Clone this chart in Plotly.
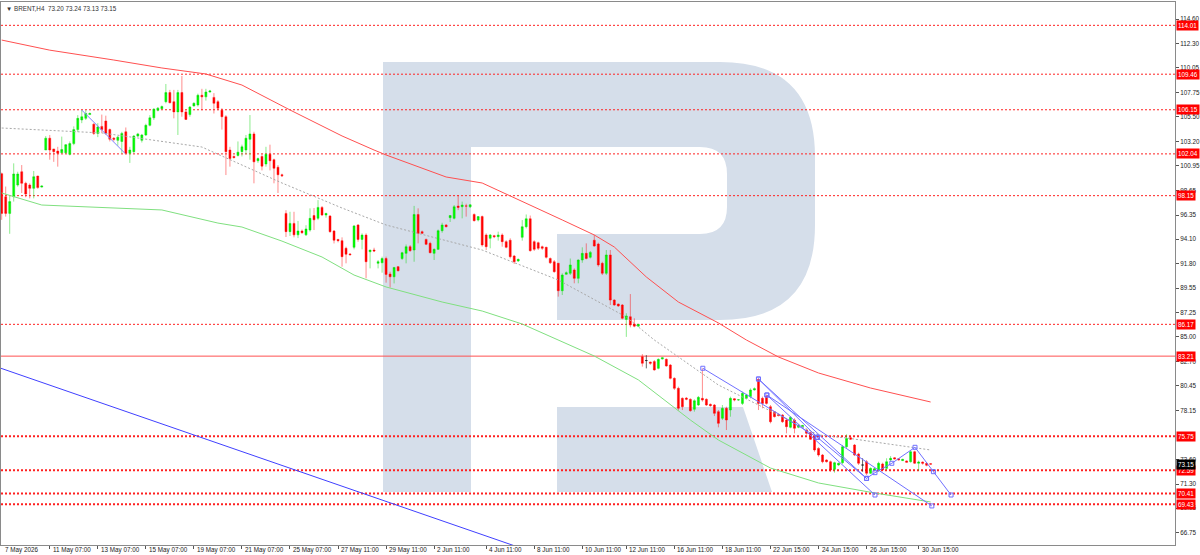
import plotly.graph_objects as go

# ---------------- data ----------------
opens = [100.2, 98.05, 96.5, 98.05, 99.14, 100.38, 99.3, 99.14, 98.83, 99.98,
         98.95, 102.4, 103.5, 102.5, 102.3, 102.15, 102.15, 102.0, 103.0, 104.3,
         105.2, 105.35, 105.7, 104.8, 103.95, 104.6, 105.1, 104.3, 103.5, 103.3,
         103.2, 104.1, 102.1, 102.25, 103.7, 103.3, 103.8, 104.7, 105.4, 106.1,
         106.25, 106.9, 107.75, 106.9, 105.95, 107.75, 105.95, 105.7, 106.5, 106.6,
         107.5, 107.35, 107.8, 107.3, 106.9, 106.1, 105.5, 102.4, 101.8, 101.9,
         102.25, 102.4, 103.4, 103.9, 101.4, 101.8, 101.1, 102.0, 101.5, 100.8,
         100.1, 96.5, 94.8, 95.57, 94.5, 94.86, 94.5, 94.95, 96.3, 96.04,
         97.06, 96.35, 96.25, 94.86, 94.08, 93.96, 93.25, 92.72, 93.34, 95.42,
         94.08, 94.48, 92.93, 93.09, 91.85, 91.9, 92.3, 90.85, 90.6, 91.54,
         92.3, 92.78, 93.4, 93.09, 96.4, 94.8, 94.08, 93.71, 92.78, 93.15,
         94.89, 95.42, 96.1, 96.04, 97.18, 97.12, 97.2, 97.12, 96.4, 95.88,
         96.2, 94.49, 94.18, 94.43, 94.33, 94.49, 93.87, 94.0, 92.53, 92.07,
         94.27, 95.26, 96.0, 93.87, 93.77, 93.4, 93.34, 92.3, 92.0, 91.85,
         89.3, 90.83, 90.92, 91.23, 90.45, 92.16, 92.78, 92.41, 94.0, 93.65,
         91.85, 90.92, 92.63, 88.43, 88.06, 87.97, 86.63, 86.88, 86.2, 86.0,
         83.16, 82.8, 82.66, 82.7, 82.07, 82.94, 82.91, 82.38, 81.14, 80.21,
         79.28, 79.3, 79.19, 78.26, 78.66, 79.28, 79.19, 78.72, 78.66, 78.04,
         77.42, 78.35, 78.2, 79.25, 79.12, 78.81, 79.28, 79.44, 80.06, 81.05,
         79.28, 79.5, 78.5, 78.04, 77.8, 77.73, 77.26, 76.58, 77.26, 76.58,
         76.64, 76.33, 76.08, 75.71, 74.62, 74.0, 73.54, 73.38, 72.67, 73.07,
         73.29, 74.78, 75.62, 74.93, 74.1, 73.07, 73.38, 72.3, 72.6, 72.61,
         73.17, 72.76, 73.54, 73.75, 73.66, 73.48, 73.45, 73.38, 74.31, 73.23,
         73.35, 73.23, 73.20]
highs = [100.3, 99.0, 98.1, 101.16, 100.38, 101.0, 99.45, 99.3, 100.45, 100.0,
         99.1, 103.7, 103.8, 102.5, 102.7, 103.65, 102.95, 103.2, 104.6, 105.65,
         106.1, 106.1, 105.9, 104.9, 104.9, 105.7, 105.6, 104.4, 103.6, 103.7,
         104.1, 104.5, 102.7, 103.8, 104.0, 103.9, 104.85, 105.65, 106.3, 106.4,
         106.55, 108.55, 108.0, 108.0, 108.0, 109.3, 106.1, 106.5, 106.85, 107.65,
         108.1, 108.1, 108.0, 107.7, 107.05, 106.3, 105.65, 102.7, 101.9, 103.2,
         102.9, 103.8, 105.66, 104.1, 101.7, 102.0, 102.7, 102.9, 101.6, 101.0,
         100.2, 96.8, 96.65, 96.65, 95.8, 95.0, 95.4, 96.97, 97.0, 97.74,
         97.18, 96.55, 96.35, 94.95, 94.1, 94.27, 93.4, 92.8, 95.42, 95.5,
         94.64, 94.64, 93.1, 93.3, 92.16, 92.47, 92.47, 91.07, 91.5, 91.6,
         92.93, 93.6, 93.55, 97.2, 96.97, 94.9, 94.15, 93.86, 93.24, 95.0,
         95.63, 95.5, 96.35, 97.28, 98.2, 97.6, 97.4, 97.35, 96.5, 96.25,
         96.3, 94.64, 94.58, 94.5, 94.8, 94.64, 94.0, 94.18, 92.63, 92.3,
         95.88, 96.4, 96.3, 94.0, 93.87, 93.5, 93.4, 92.4, 92.16, 91.9,
         90.92, 91.1, 92.3, 91.38, 92.22, 93.34, 93.71, 93.0, 94.49, 93.77,
         92.0, 93.09, 93.09, 88.5, 88.1, 88.06, 87.2, 88.99, 86.73, 86.2,
         83.4, 83.3, 82.7, 82.85, 83.0, 83.1, 83.0, 82.47, 81.24, 80.37,
         79.37, 79.4, 79.28, 79.19, 79.5, 82.07, 79.28, 78.8, 78.75, 78.19,
         78.66, 78.5, 79.44, 79.3, 79.2, 79.9, 79.7, 80.21, 80.3, 81.14,
         79.44, 79.6, 78.66, 78.1, 77.85, 77.8, 77.42, 77.63, 77.42, 76.9,
         76.8, 76.4, 76.17, 75.77, 74.72, 74.1, 73.6, 73.48, 73.38, 73.3,
         74.93, 75.93, 75.77, 75.03, 74.22, 73.7, 73.54, 72.85, 72.8, 73.38,
         73.29, 73.7, 73.9, 73.8, 73.7, 73.65, 73.5, 74.4, 74.4, 73.48,
         73.4, 73.3, 73.24]
lows = [95.9, 96.2, 94.6, 97.6, 98.99, 98.4, 98.0, 97.9, 97.9, 98.8,
        98.9, 102.4, 101.5, 101.3, 100.85, 102.1, 102.05, 101.9, 102.85, 104.1,
        104.9, 105.2, 105.7, 103.8, 103.6, 104.0, 103.8, 103.2, 103.2, 102.8,
        102.1, 102.0, 101.2, 102.1, 103.6, 103.1, 103.7, 104.6, 105.2, 106.0,
        106.2, 106.75, 106.75, 105.35, 103.8, 105.5, 105.2, 105.5, 106.45, 106.45,
        106.1, 107.0, 107.75, 105.8, 106.1, 104.3, 100.07, 100.85, 101.6, 101.8,
        101.8, 102.0, 101.5, 99.3, 101.2, 100.5, 100.85, 100.5, 99.3, 98.4,
        99.9, 94.3, 94.4, 94.27, 94.2, 94.6, 94.4, 94.8, 94.95, 95.88,
        96.25, 96.1, 94.7, 93.7, 93.8, 91.54, 91.85, 92.6, 93.15, 93.86,
        93.15, 90.45, 91.38, 92.9, 91.38, 90.98, 90.05, 89.6, 89.98, 91.1,
        92.16, 91.85, 92.93, 92.0, 93.71, 94.6, 93.55, 92.78, 92.16, 93.1,
        94.7, 95.2, 95.7, 95.94, 96.8, 96.04, 96.2, 97.0, 95.75, 95.75,
        93.4, 93.09, 93.25, 94.2, 93.96, 93.4, 93.25, 92.3, 91.79, 91.98,
        93.96, 95.1, 92.94, 93.0, 93.09, 93.1, 92.3, 91.79, 90.98, 88.75,
        88.9, 90.8, 90.76, 89.99, 89.99, 91.9, 92.22, 92.3, 93.4, 91.54,
        90.76, 90.76, 87.97, 87.9, 87.8, 86.63, 85.0, 85.89, 85.9, 85.95,
        82.23, 82.07, 82.4, 81.86, 81.98, 82.9, 82.23, 81.05, 80.06, 78.13,
        78.19, 79.1, 78.04, 78.04, 78.57, 78.97, 78.57, 78.5, 77.63, 76.58,
        77.26, 76.33, 77.57, 79.0, 79.05, 78.66, 79.2, 79.28, 80.0, 78.19,
        78.35, 78.7, 76.95, 77.5, 77.6, 77.0, 76.02, 76.49, 76.02, 76.5,
        76.6, 75.9, 75.4, 74.31, 73.85, 73.23, 73.3, 72.45, 72.36, 73.0,
        73.17, 74.62, 75.4, 73.91, 73.07, 72.45, 72.14, 72.23, 72.55, 72.45,
        72.55, 72.61, 73.4, 73.6, 73.5, 73.45, 73.3, 73.29, 73.17, 72.55,
        73.1, 72.95, 73.13]
closes = [96.5, 96.5, 97.6, 100.17, 100.17, 99.3, 98.3, 98.83, 99.92, 98.9,
          99.05, 103.5, 102.4, 102.25, 102.1, 102.45, 102.9, 103.0, 104.3, 105.35,
          105.5, 105.8, 105.8, 103.95, 104.55, 104.3, 103.95, 103.4, 103.4, 103.6,
          103.95, 102.1, 102.4, 103.7, 103.9, 103.8, 104.7, 105.4, 106.2, 106.3,
          106.45, 107.75, 106.8, 105.95, 107.75, 105.95, 105.25, 106.4, 106.75, 107.5,
          107.35, 107.8, 107.9, 106.75, 106.3, 105.5, 102.25, 101.6, 101.7, 102.2,
          102.7, 103.5, 103.9, 101.3, 101.6, 100.9, 102.0, 101.4, 100.7, 100.1,
          100.0, 94.8, 95.57, 94.5, 94.86, 94.7, 95.05, 96.04, 95.9, 97.06,
          96.35, 96.5, 94.8, 94.0, 93.96, 92.47, 92.7, 92.65, 95.33, 94.08,
          94.48, 92.0, 93.09, 93.0, 92.0, 92.3, 90.82, 90.6, 91.47, 91.16,
          92.84, 93.4, 93.03, 96.4, 94.64, 94.64, 93.62, 92.84, 93.15, 94.89,
          95.42, 95.26, 96.3, 97.12, 97.06, 97.28, 97.18, 97.3, 95.82, 96.2,
          93.56, 93.4, 94.49, 94.33, 94.49, 93.87, 93.34, 92.47, 92.0, 92.22,
          95.26, 96.0, 93.03, 93.15, 93.25, 93.25, 92.41, 91.9, 91.07, 89.3,
          90.76, 90.98, 91.7, 90.45, 92.16, 92.78, 92.3, 92.87, 93.46, 91.7,
          90.92, 92.63, 88.43, 87.97, 87.88, 86.73, 86.95, 86.11, 86.0, 86.17,
          82.54, 82.8, 82.54, 81.92, 82.91, 83.07, 82.29, 81.14, 80.21, 78.35,
          78.5, 79.19, 78.13, 79.06, 79.37, 79.12, 78.66, 78.6, 77.88, 76.95,
          78.35, 77.26, 79.28, 79.12, 79.15, 79.75, 79.59, 80.06, 80.18, 78.81,
          78.81, 78.81, 77.1, 77.57, 77.67, 77.1, 76.64, 77.51, 76.49, 76.8,
          76.76, 76.02, 75.46, 74.47, 74.0, 73.38, 73.38, 72.61, 73.29, 73.23,
          74.78, 75.55, 75.46, 74.0, 73.23, 73.07, 72.3, 72.76, 72.73, 73.23,
          72.61, 73.38, 73.69, 73.63, 73.54, 73.6, 73.32, 74.31, 73.23, 73.35,
          73.23, 73.04, 73.15]

tick_idx = [0, 12, 24, 36, 48, 60, 72, 84, 96, 108, 121, 133, 145, 156, 168,
            180, 192, 204, 216, 229]
tick_txt = ["7 May 2026", "11 May 07:00", "13 May 07:00", "15 May 07:00",
            "19 May 07:00", "21 May 07:00", "25 May 07:00", "27 May 11:00",
            "29 May 11:00", "2 Jun 11:00", "4 Jun 11:00", "8 Jun 11:00",
            "10 Jun 11:00", "12 Jun 11:00", "16 Jun 11:00", "18 Jun 11:00",
            "22 Jun 15:00", "24 Jun 15:00", "26 Jun 15:00", "30 Jun 15:00"]

price_ticks = [114.60, 112.30, 110.05, 107.75, 105.50, 103.20, 100.95, 98.65,
               96.35, 94.10, 91.80, 89.55, 87.25, 85.00, 82.70, 80.45, 78.15,
               73.60, 71.30, 69.05, 66.75]

levels_thin = [114.01, 109.46, 106.15, 102.04, 98.15, 86.17]
levels_bold = [75.75, 72.59, 70.41, 69.43]
level_solid = [83.21]
last_price = 73.15
header_text = "BRENT,H4\u00a0\u00a073.20 73.24 73.13 73.15"

red_ma_idx = [0, 12, 28, 40, 51, 56, 60, 72, 85, 93, 96, 111, 120, 140, 148,
              153, 161, 169, 179, 186, 194, 204, 217, 232]
red_ma_val = [112.64, 111.7, 110.78, 110.04, 109.48, 108.92, 108.45, 106.13,
              103.71, 102.4, 101.94, 99.89, 99.33, 95.89, 94.49, 93.37, 90.58,
              88.25, 86.3, 84.71, 83.13, 81.64, 80.24, 78.94]
green_ma_idx = [0, 10, 40, 54, 60, 70, 80, 88, 96, 110, 120, 130, 148, 159,
                172, 179, 192, 204, 218, 232]
green_ma_val = [98.40, 97.28, 96.82, 95.6, 95.23, 93.92, 92.44, 90.76, 89.65,
                88.25, 87.41, 86.2, 83.22, 81.0, 77.26, 75.40, 72.79, 71.40,
                70.47, 69.63]
gray_idx = [0, 25, 50, 70, 85, 96, 120, 139, 156, 163, 179, 204, 211, 232]
gray_val = [104.45, 103.99, 102.68, 99.33, 97.0, 95.42, 93.09, 90.3, 86.85,
            84.71, 80.52, 75.87, 75.59, 74.47]

blue_long_idx = [-0.2, 130.0]
blue_long_val = [82.08, 65.30]
blue_short_idx = [20.0, 30.8]
blue_short_val = [106.12, 102.09]

# zig-zag / fan drawing points
pts = {
    "A": (175.1, 82.08), "B": (189.0, 81.08), "C": (191.1, 79.59),
    "D": (203.7, 75.65), "E": (216.0, 71.83), "E2": (218.1, 72.36),
    "K": (222.3, 73.23), "G": (228.1, 74.72), "H": (232.7, 72.45),
    "F": (218.1, 70.28), "I": (232.3, 69.26), "J": (237.1, 70.28),
}
fan_paths = [["A", "D"], ["B", "E"], ["B", "D"], ["C", "F"], ["C", "I"],
             ["D", "E", "E2", "K", "G", "H", "J"]]

# ---------------- figure ----------------
W, H = 1200, 555
ML, MR, MT, MB = 1, 25, 2, 10
PW, PH = W - ML - MR, H - MT - MB
X0_PX, BAR_PX = 1.7, 4.004          # pixel of first bar and bar spacing
XMIN = -(X0_PX - ML) / BAR_PX
XMAX = XMIN + PW / BAR_PX
YMAX = 114.60 + (19 - MT) / 10.74
YMIN = 114.60 - (H - MB - 19) / 10.74
FS = 6.3
FONT = "Liberation Sans, Arial, sans-serif"

fig = go.Figure()

n = len(closes)
groups = {
    "up": ([k for k in range(n) if closes[k] > opens[k]], "#00ff00", "rgba(0,210,0,0.45)"),
    "down": ([k for k in range(n) if closes[k] < opens[k]], "#ff0000", "rgba(255,0,0,0.45)"),
    "doji": ([k for k in range(n) if closes[k] == opens[k]], "#303030", "rgba(40,40,40,0.7)"),
}
for name, (ids, fill, line) in groups.items():
    style = dict(fillcolor=fill, line=dict(color=line, width=1))
    fig.add_trace(go.Candlestick(
        x=ids,
        open=[opens[k] for k in ids], high=[max(highs[k], opens[k], closes[k]) for k in ids],
        low=[min(lows[k], opens[k], closes[k]) for k in ids], close=[closes[k] for k in ids],
        increasing=style, decreasing=style, hoverinfo="skip", name=name))

fig.add_trace(go.Scatter(x=gray_idx, y=gray_val, mode="lines",
                         line=dict(color="#a8a8a8", width=1, dash="2px,2px"), hoverinfo="skip"))
fig.add_trace(go.Scatter(x=red_ma_idx, y=red_ma_val, mode="lines",
                         line=dict(color="#ff5050", width=1), hoverinfo="skip"))
fig.add_trace(go.Scatter(x=green_ma_idx, y=green_ma_val, mode="lines",
                         line=dict(color="#80e080", width=1), hoverinfo="skip"))
fig.add_trace(go.Scatter(x=blue_long_idx, y=blue_long_val, mode="lines",
                         line=dict(color="#4040ff", width=1), hoverinfo="skip"))
fig.add_trace(go.Scatter(x=blue_short_idx, y=blue_short_val, mode="lines",
                         line=dict(color="#8080ff", width=1), hoverinfo="skip"))
for path in fan_paths:
    fig.add_trace(go.Scatter(x=[pts[p][0] for p in path], y=[pts[p][1] for p in path],
                             mode="lines+markers",
                             line=dict(color="#7070ff", width=1),
                             marker=dict(symbol="square-open", size=4, color="#7070ff",
                                         line=dict(width=1)),
                             hoverinfo="skip", cliponaxis=True))

# ---------------- watermark "R" (decoration, pixel geometry) ----------------
def pp(px, py):
    return f"{(px - ML) / PW:.5f},{(H - MB - py) / PH:.5f}"

r_path = ("M{} L{} Q{} {} L{} Q{} {} L{} L{} L{} Q{} {} L{} Q{} {} L{} L{} L{} Z").format(
    pp(383, 62), pp(720, 62), pp(815, 62), pp(815, 157), pp(815, 225),
    pp(815, 320), pp(720, 320), pp(557, 320), pp(557, 234), pp(700, 234),
    pp(727, 234), pp(727, 207), pp(727, 174), pp(727, 147), pp(700, 147),
    pp(471, 147), pp(471, 492), pp(383, 492))
leg_path = "M{} L{} L{} L{} Z".format(pp(557, 407), pp(743, 407), pp(772, 492), pp(557, 492))
shapes = []
for p in (r_path, leg_path):
    shapes.append(dict(type="path", path=p, xref="paper", yref="paper",
                       fillcolor="#d5deea", line=dict(width=0), layer="below"))

for lv in levels_thin:
    shapes.append(dict(type="line", xref="paper", x0=0, x1=1, yref="y", y0=lv, y1=lv,
                       line=dict(color="#ff2020", width=1, dash="2px,2px"), layer="below"))
for lv in levels_bold:
    shapes.append(dict(type="line", xref="paper", x0=0, x1=1, yref="y", y0=lv, y1=lv,
                       line=dict(color="#ff2020", width=2, dash="2px,2px"), layer="below"))
for lv in level_solid:
    shapes.append(dict(type="line", xref="paper", x0=0, x1=1, yref="y", y0=lv, y1=lv,
                       line=dict(color="#ff5050", width=1), layer="below"))

annotations = []
for lv in levels_thin + levels_bold + level_solid:
    annotations.append(dict(x=1, xref="paper", xanchor="left", xshift=1, y=lv, yref="y",
                            text=f"{lv:.2f}", showarrow=False, bgcolor="#ff0000",
                            borderpad=1, font=dict(color="white", size=FS)))
annotations.append(dict(x=1, xref="paper", xanchor="left", xshift=1, y=last_price, yref="y",
                        text=f"{last_price:.2f}", showarrow=False, bgcolor="#000000",
                        borderpad=1, font=dict(color="white", size=FS)))
annotations.append(dict(x=0, y=1, xref="paper", yref="paper", xanchor="left", yanchor="top",
                        xshift=3, yshift=-1, text="\u25bc " + header_text, showarrow=False,
                        font=dict(color="#333333", size=FS)))
# time labels: MetaTrader style, text starting just right of each tick mark
for ti, tt in zip(tick_idx, tick_txt):
    annotations.append(dict(x=ti, xref="x", y=0, yref="paper", xanchor="left",
                            yanchor="top", xshift=2, yshift=0, text=tt, showarrow=False,
                            borderpad=0, font=dict(color="#222222", size=FS)))

fig.update_layout(
    width=W, height=H,
    margin=dict(l=ML, r=MR, t=MT, b=MB, autoexpand=False),
    paper_bgcolor="white", plot_bgcolor="white", showlegend=False,
    font=dict(family=FONT, size=FS, color="#222222"),
    shapes=shapes, annotations=annotations,
    xaxis=dict(range=[XMIN, XMAX], tickvals=tick_idx[1:], showticklabels=False,
               ticks="outside", ticklen=3, tickcolor="#555555",
               showgrid=False, zeroline=False,
               showline=True, linecolor="#8a8a8a", linewidth=1, mirror=True,
               rangeslider=dict(visible=False), fixedrange=True),
    yaxis=dict(range=[YMIN, YMAX], side="right", tickvals=price_ticks,
               ticktext=[f"{v:.2f}" for v in price_ticks],
               ticks="outside", ticklen=3, tickcolor="#555555",
               tickfont=dict(size=FS, color="#222222"),
               showgrid=False, zeroline=False, showline=True, linecolor="#8a8a8a",
               linewidth=1, mirror=True, fixedrange=True),
)

fig.write_html("out.html", config={"displayModeBar": False},
               post_script="document.body.style.margin='0';document.body.style.padding='0';"
                           "document.body.style.overflow='hidden';")
